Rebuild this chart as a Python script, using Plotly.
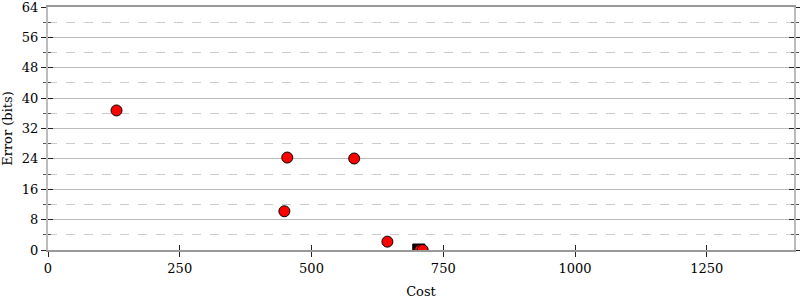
import plotly.graph_objects as go

cost = [130, 454, 581, 448.5, 644, 706, 711]
error = [36.75, 24.35, 24.1, 10.2, 2.2, 0.0, 0.0]
sq_cost = [703.5]
sq_error = [0.0]

x_ticks = [0, 250, 500, 750, 1000, 1250]
y_ticks = [0, 8, 16, 24, 32, 40, 48, 56, 64]

FONT = "DejaVu Serif"

fig = go.Figure()
fig.add_trace(go.Scatter(x=sq_cost, y=sq_error, mode="markers",
                         marker=dict(symbol="square", size=12, color="black",
                                     line=dict(color="black", width=1)),
                         cliponaxis=True, showlegend=False))
fig.add_trace(go.Scatter(x=cost, y=error, mode="markers",
                         marker=dict(symbol="circle", size=11, color="#ff0000",
                                     line=dict(color="black", width=1)),
                         cliponaxis=True, showlegend=False))

xr = [0, 1415.5]
yr = [0, 64]

fig.update_layout(
    width=800, height=300,
    margin=dict(l=48, r=6, t=7, b=50),
    plot_bgcolor="white", paper_bgcolor="white",
    font=dict(family=FONT, size=13, color="#000"),
    xaxis=dict(range=xr, tickvals=x_ticks, showgrid=False, zeroline=False,
               automargin=False, ticklabeloverflow="allow",
               showline=True, linecolor="#999", linewidth=2, mirror=True,
               ticks="outside", ticklen=5, tickcolor="#222", tickwidth=1,
               title=dict(text="Cost", font=dict(family=FONT, size=13), standoff=12)),
    yaxis=dict(range=yr, tickvals=y_ticks, zeroline=False, automargin=False,
               ticklabeloverflow="allow",
               showgrid=True, gridcolor="#bbb", gridwidth=1,
               showline=True, linecolor="#bbb", linewidth=2, mirror="ticks",
               ticks="outside", ticklen=5, tickcolor="#222", tickwidth=1,
               minor=dict(dtick=4, tick0=0, showgrid=True, gridcolor="#ccc",
                          griddash="dash", gridwidth=1, ticks="outside",
                          ticklen=3, tickcolor="#555"),
               title=dict(text="Error (bits)", font=dict(family=FONT, size=13), standoff=8)),
    xaxis2=dict(range=xr, tickvals=x_ticks, overlaying="x", showgrid=False,
                zeroline=False, showticklabels=False, ticks="inside", ticklen=5,
                tickcolor="#222", matches="x", automargin=False),
    yaxis2=dict(range=yr, tickvals=y_ticks, overlaying="y", showgrid=False,
                zeroline=False, showticklabels=False, ticks="inside", ticklen=5,
                tickcolor="#222", mirror="ticks", showline=False, automargin=False,
                minor=dict(dtick=4, tick0=0, ticks="inside", ticklen=3,
                           tickcolor="#555", showgrid=False)),
)
fig.add_trace(go.Scatter(x=[None], y=[None], xaxis="x2", yaxis="y2",
                         showlegend=False, hoverinfo="skip"))

fig.write_html("out.html")
